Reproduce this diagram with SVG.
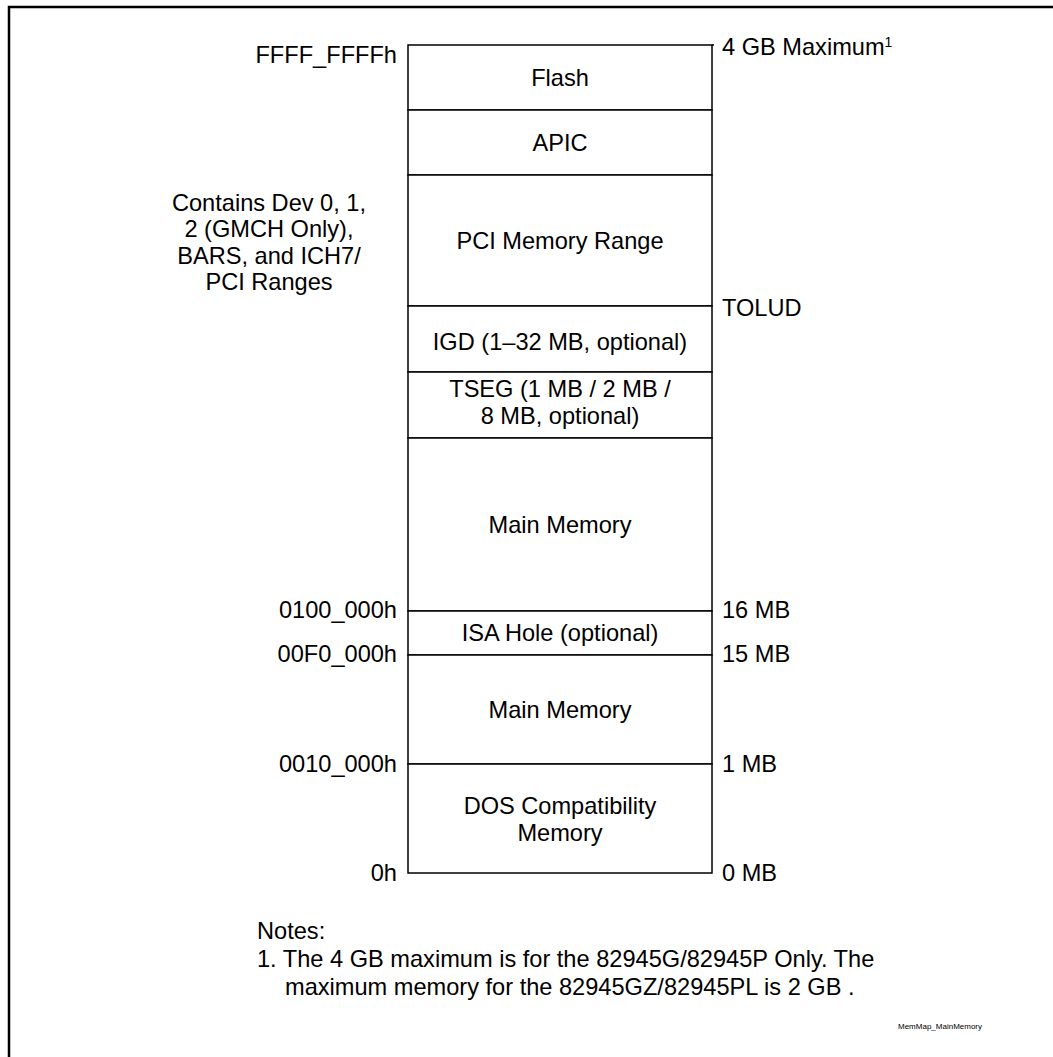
<svg xmlns="http://www.w3.org/2000/svg" width="1053" height="1057" viewBox="0 0 1053 1057">
<style>
text{font-family:"Liberation Sans",Arial,sans-serif;font-size:23.6px;fill:#000}
.c{text-anchor:middle}
.r{text-anchor:end}
.b{fill:#fff;stroke:#000;stroke-width:1.5}
.ln{stroke:#000;stroke-width:1.5;fill:none}
</style>
<rect x="0" y="0" width="1053" height="1057" fill="#fff"/>
<rect x="9" y="7" width="1200" height="1200" fill="none" stroke="#000" stroke-width="2.5"/>
<g id="flash"><rect class="b" x="408" y="45" width="304" height="65"/><text class="c" x="560" y="86">Flash</text></g>
<g id="apic"><rect class="b" x="408" y="110" width="304" height="65"/><text class="c" x="560" y="151">APIC</text></g>
<g id="pci"><rect class="b" x="408" y="175" width="304" height="131"/><text class="c" x="560" y="249">PCI Memory Range</text></g>
<g id="igd"><rect class="b" x="408" y="306" width="304" height="66"/><text class="c" x="560" y="350">IGD (1–32 MB, optional)</text></g>
<g id="tseg"><rect class="b" x="408" y="372" width="304" height="66"/><text class="c" x="560" y="397">TSEG (1 MB / 2 MB /</text><text class="c" x="560" y="424">8 MB, optional)</text></g>
<g id="main-high"><rect class="b" x="408" y="438" width="304" height="173"/><text class="c" x="560" y="533">Main Memory</text></g>
<g id="isa"><rect class="b" x="408" y="611" width="304" height="44"/><text class="c" x="560" y="641">ISA Hole (optional)</text></g>
<g id="main-low"><rect class="b" x="408" y="655" width="304" height="109"/><text class="c" x="560" y="718">Main Memory</text></g>
<g id="dos"><rect class="b" x="408" y="764" width="304" height="109"/><text class="c" x="560" y="814">DOS Compatibility</text><text class="c" x="560" y="841">Memory</text></g>
<g id="connectors">
<line class="ln" x1="712" y1="45" x2="714" y2="45"/>
</g>
<g id="left-labels">
<text class="r" x="397" y="63">FFFF_FFFFh</text>
<text class="r" x="397" y="618">0100_000h</text>
<text class="r" x="397" y="662">00F0_000h</text>
<text class="r" x="397" y="772">0010_000h</text>
<text class="r" x="397" y="881">0h</text>
<text class="c" x="269" y="211">Contains Dev 0, 1,</text>
<text class="c" x="269" y="237">2 (GMCH Only),</text>
<text class="c" x="269" y="264">BARS, and ICH7/</text>
<text class="c" x="269" y="290">PCI Ranges</text>
</g>
<g id="right-labels">
<text x="722" y="55">4 GB Maximum<tspan font-size="14" dy="-8">1</tspan></text>
<text x="722" y="316">TOLUD</text>
<text x="722" y="618">16 MB</text>
<text x="722" y="662">15 MB</text>
<text x="722" y="772">1 MB</text>
<text x="722" y="881">0 MB</text>
</g>
<g id="notes">
<text x="257" y="939">Notes:</text>
<text x="257" y="967">1. The 4 GB maximum is for the 82945G/82945P Only. The</text>
<text x="285" y="995">maximum memory for the 82945GZ/82945PL is 2 GB .</text>
<text x="898" y="1029" style="font-size:8px">MemMap_MainMemory</text>
</g>
</svg>
